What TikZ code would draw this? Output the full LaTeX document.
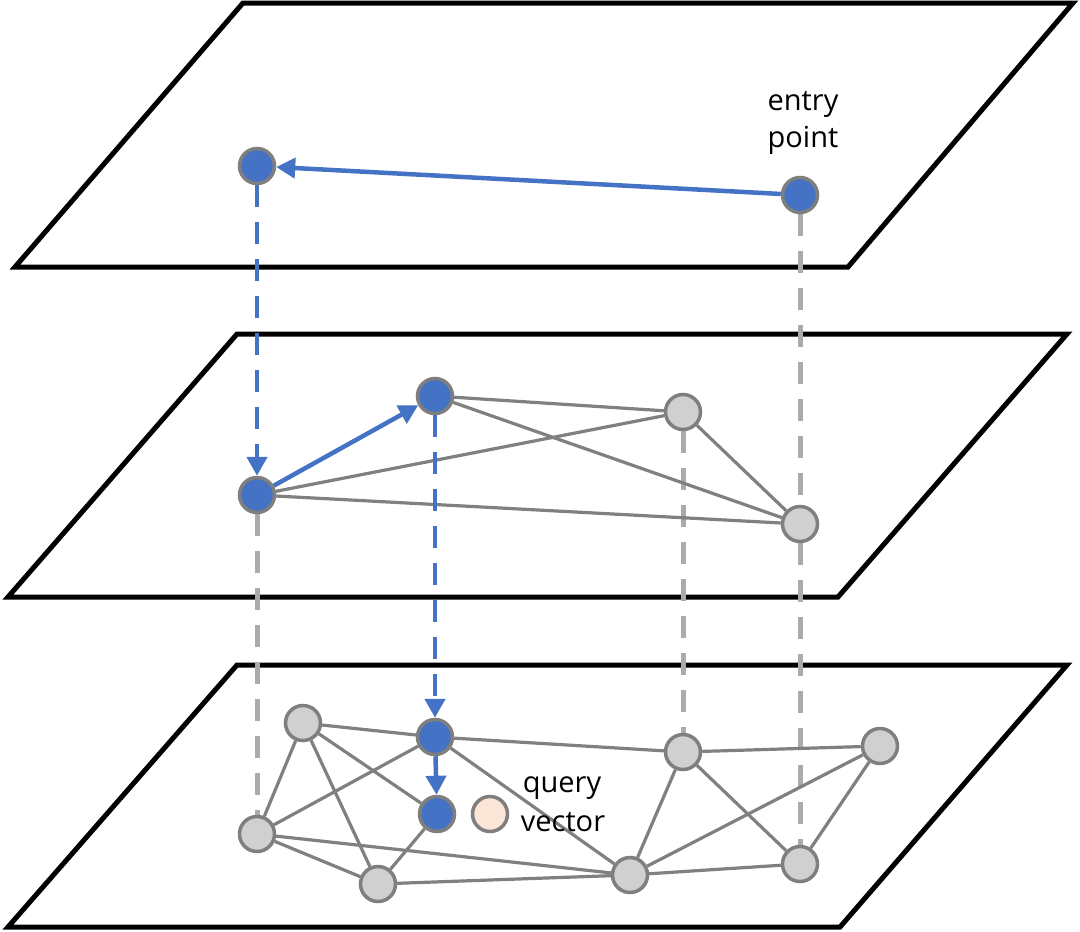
\documentclass[tikz,border=0pt]{standalone}
\usepackage{fontspec}
\setmainfont{Open Sans}
\usetikzlibrary{arrows.meta}
\pgfdeclarelayer{bg}
\pgfdeclarelayer{mid}
\pgfsetlayers{bg,mid,main}
\definecolor{nblue}{HTML}{4472C4}
\definecolor{nstroke}{HTML}{7F7F7F}
\definecolor{ngray}{HTML}{D0D0D0}
\definecolor{edgegray}{HTML}{808080}
\definecolor{dashgray}{HTML}{ABABAB}
\definecolor{qfill}{HTML}{FBE5D6}
\tikzset{
  plane/.style={draw=black, line width=5pt, line join=miter},
  bnode/.style={circle, fill=nblue, draw=nstroke, line width=3.5pt, minimum size=35pt, inner sep=0pt},
  gnode/.style={circle, fill=ngray, draw=nstroke, line width=3.5pt, minimum size=35pt, inner sep=0pt},
  qnode/.style={circle, fill=qfill, draw=nstroke, line width=3.5pt, minimum size=35pt, inner sep=0pt},
  edge/.style={draw=edgegray, line width=3.2pt},
  gdash/.style={draw=dashgray, line width=5pt, dash pattern=on 22pt off 15pt},
  bdash/.style={draw=nblue, line width=4.5pt, dash pattern=on 22pt off 15pt, -{Triangle[length=19pt,width=20pt]}},
  barrow/.style={draw=nblue, line width=4.5pt, -{Triangle[length=19pt,width=20pt]}},
  lbl/.style={font=\fontsize{29pt}{34pt}\selectfont, inner sep=0pt}
}
\begin{document}
\begin{tikzpicture}[x=1pt,y=-1pt]
\useasboundingbox (0,0) rectangle (1080,932);
% planes
\begin{pgfonlayer}{bg}
\draw[plane] (243,3) -- (1073,3) -- (848,267) -- (15,267) -- cycle;
\draw[plane] (237,334) -- (1067,334) -- (838,597) -- (8,597) -- cycle;
\draw[plane] (237,665) -- (1067,665) -- (840,927) -- (8,927) -- cycle;
\end{pgfonlayer}
% nodes
\node[bnode] (A) at (257,166) {};
\node[bnode] (E) at (800,195) {};
\node[bnode] (M1) at (257,495) {};
\node[bnode] (M2) at (435,396) {};
\node[gnode] (M3) at (683,412) {};
\node[gnode] (M4) at (800,524) {};
\node[gnode] (B1) at (303,723) {};
\node[bnode] (B2) at (435,737) {};
\node[gnode] (B3) at (683,752) {};
\node[gnode] (B4) at (880,746) {};
\node[gnode] (B5) at (257,834) {};
\node[bnode] (B6) at (437,814) {};
\node[qnode] (Q) at (490,814) {};
\node[gnode] (B7) at (378,884) {};
\node[gnode] (B8) at (630,875) {};
\node[gnode] (B9) at (800,864) {};
% labels
\node[lbl] (t1) at (803,104) {entry};
\node[lbl] (t2) at (803,140) {point};
\node[lbl] (t3) at (562,788) {query};
\node[lbl] (t4) at (563,822) {vector};
\begin{pgfonlayer}{mid}
% vertical gray dashes
\draw[gdash] (E) -- (M4);
\draw[gdash] (M4) -- (B9);
\draw[gdash] (M3) -- (B3);
\draw[gdash] (M1) -- (B5);
% middle edges
\draw[edge] (M2) -- (M3);
\draw[edge] (M2) -- (M4);
\draw[edge] (M1) -- (M3);
\draw[edge] (M1) -- (M4);
\draw[edge] (M3) -- (M4);
% bottom edges
\draw[edge] (B1) -- (B2);
\draw[edge] (B1) -- (B6);
\draw[edge] (B1) -- (B7);
\draw[edge] (B1) -- (B5);
\draw[edge] (B2) -- (B5);
\draw[edge] (B2) -- (B3);
\draw[edge] (B2) -- (B8);
\draw[edge] (B5) -- (B8);
\draw[edge] (B5) -- (B7);
\draw[edge] (B7) -- (B6);
\draw[edge] (B7) -- (B8);
\draw[edge] (B8) -- (B3);
\draw[edge] (B8) -- (B4);
\draw[edge] (B3) -- (B4);
\draw[edge] (B3) -- (B9);
\draw[edge] (B9) -- (B4);
\draw[edge] (B8) -- (B9);
\end{pgfonlayer}
% blue paths
\draw[barrow] (E) -- (A);
\draw[bdash] (A) -- (M1);
\draw[barrow] (M1) -- (M2);
\draw[bdash] (M2) -- (B2);
\draw[barrow] (B2) -- (B6);
\end{tikzpicture}
\end{document}
